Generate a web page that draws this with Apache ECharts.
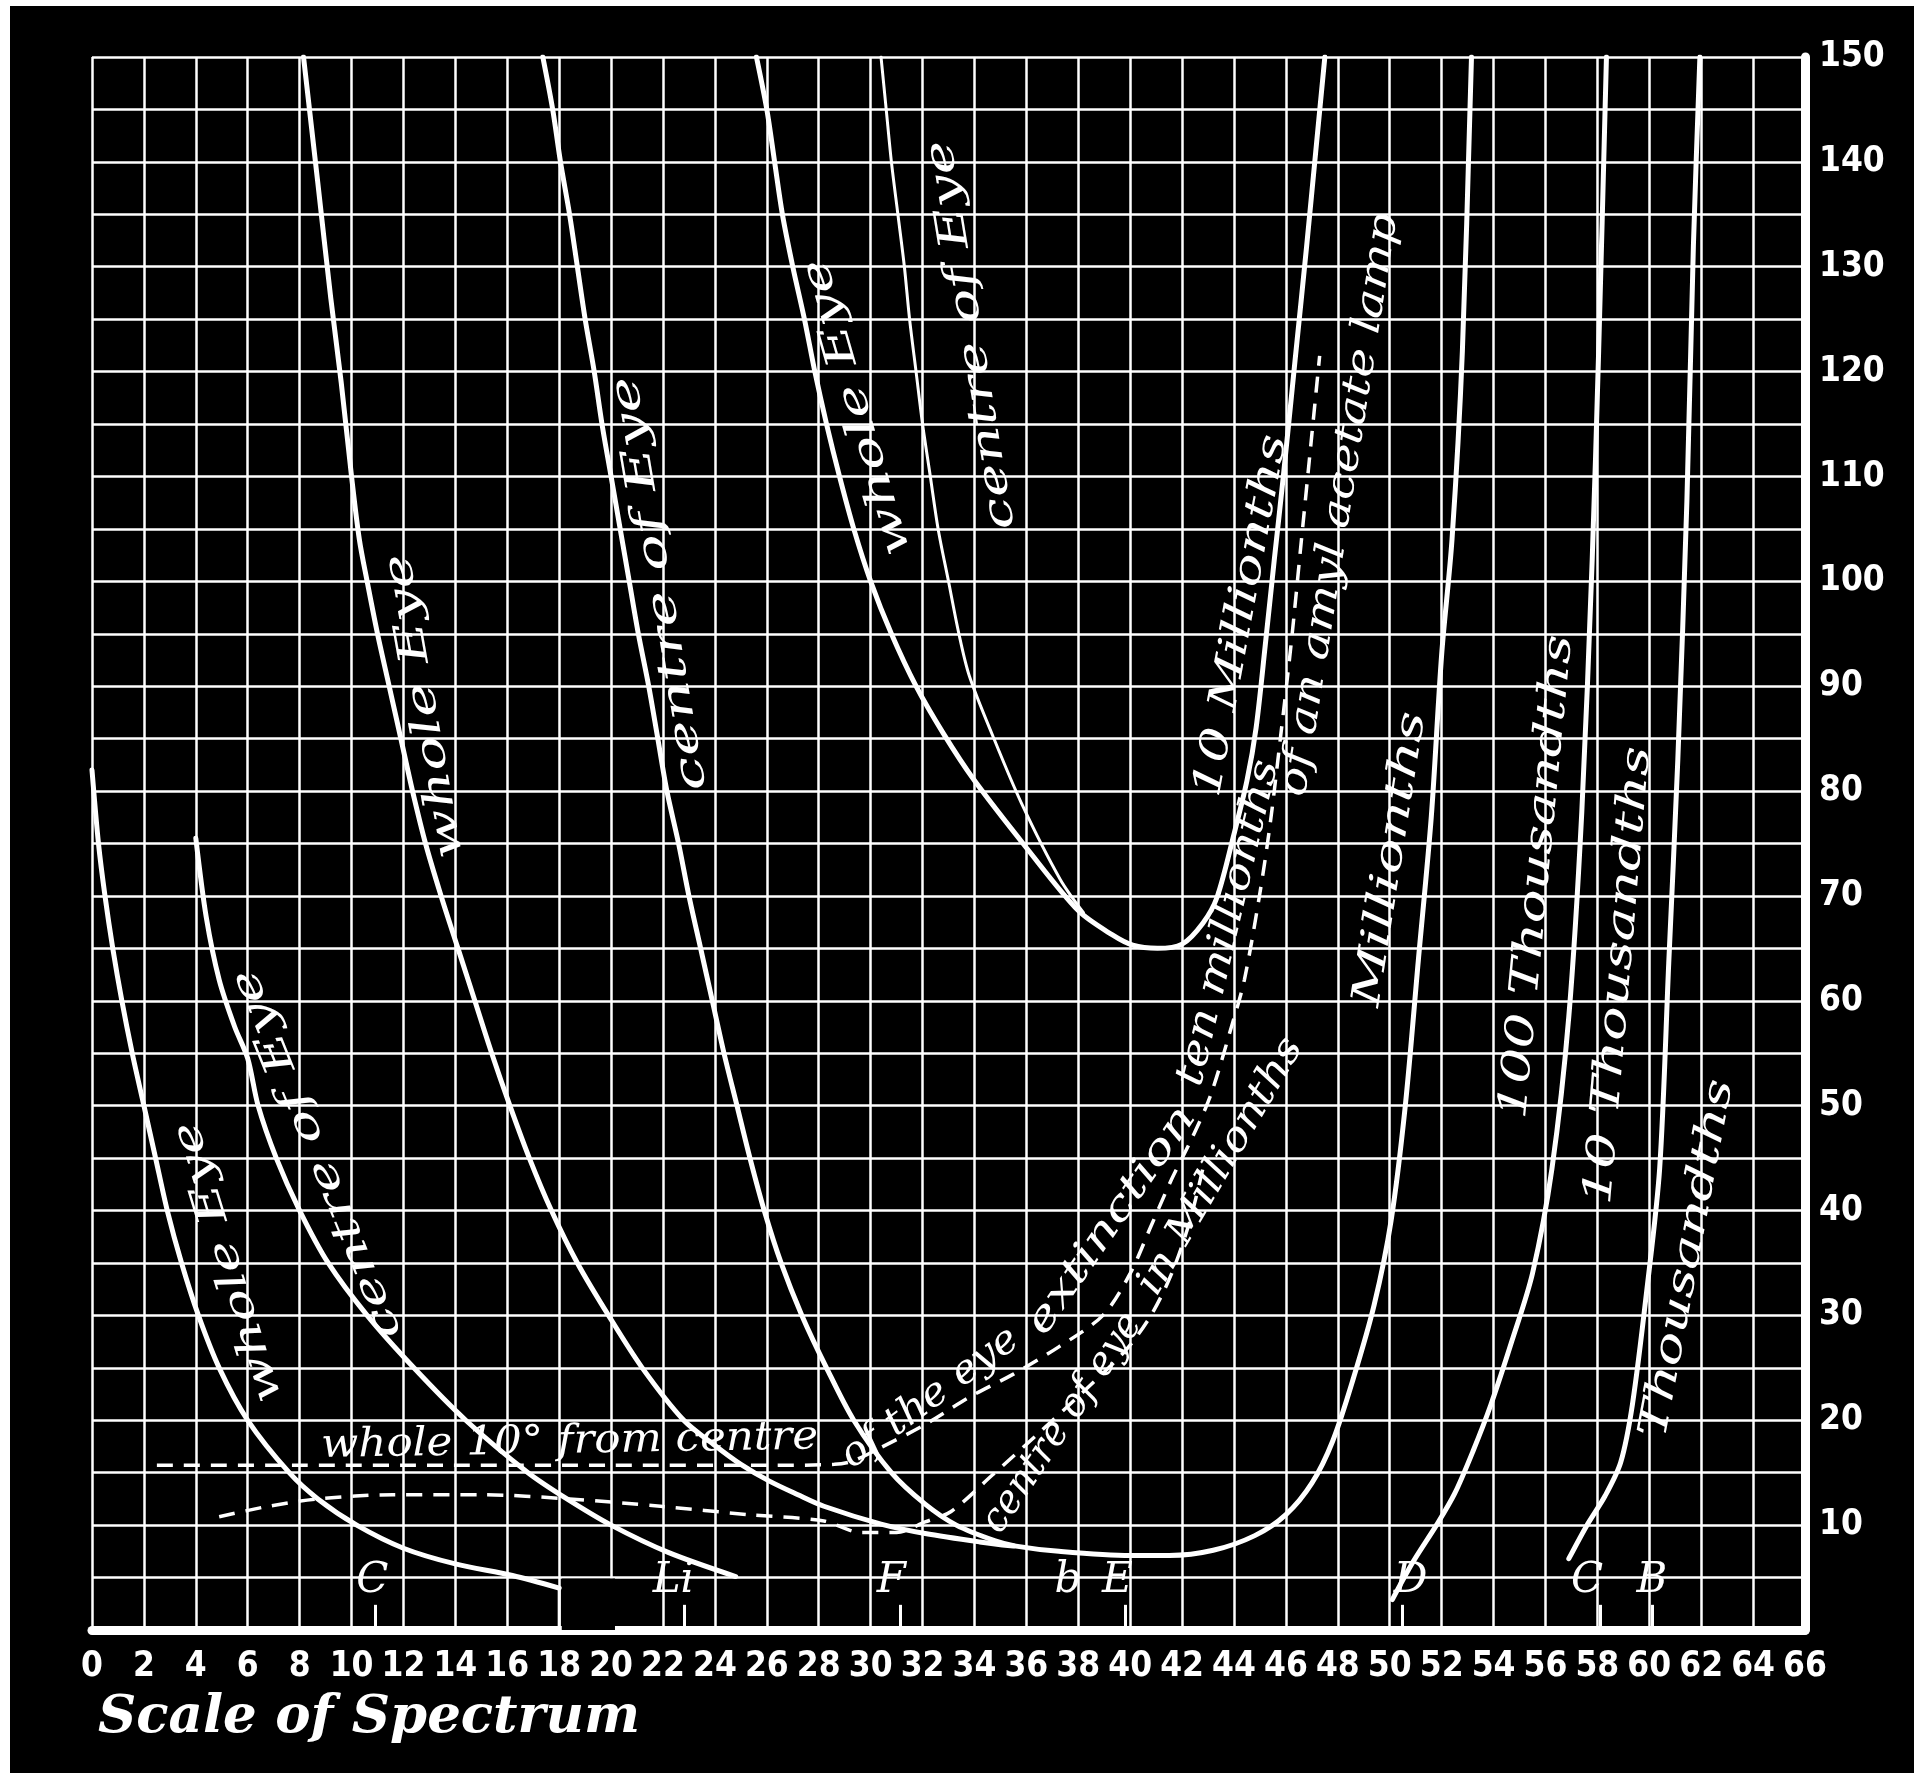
<!DOCTYPE html>
<html><head><meta charset="utf-8">
<script src="https://cdn.jsdelivr.net/npm/echarts/dist/echarts.min.js"></script>
<style>
html,body{margin:0;padding:0;background:#fff;width:1924px;height:1782px;overflow:hidden}
#chart{position:absolute;left:10px;top:6px;width:1904px;height:1767px;}
</style></head><body><div id="chart"></div>
<script>
// ---- data (x = scale of spectrum, y = intensity) ----
const xTicks = [0, 66, 2];
const yTicks = [0, 150, 5];
const wholeEyeA = [[0,82],[0.25,75],[0.5,70],[0.8,65],[1.15,60],[1.55,55],[2.0,50],[2.45,45],[2.9,40],[3.45,35],[4.1,30],[4.9,25],[6.0,20],[7.6,15],[8.7,12.5],[10.2,10],[12.0,7.8],[14.0,6.3],[16.2,5.2],[18.0,4.0]];
const centreEyeB = [[4.0,75.5],[4.4,68],[4.9,62],[5.5,57.5],[6.0,54.5],[6.4,50],[7.1,45],[8.0,40],[9.1,35],[10.6,30],[12.4,25],[14.4,20],[16.8,15],[18.3,12.5],[20.0,10],[22.2,7.4],[24.8,5.1]];
const wholeEyeC = [[8.15,150],[8.7,138],[9.2,127],[9.6,119],[10.0,110],[10.3,104],[10.6,100],[11.0,95],[11.45,90],[11.9,85],[12.35,80],[12.85,75],[13.45,70],[14.1,65],[14.75,60],[15.4,55],[16.1,50],[16.85,45],[17.7,40],[18.7,35],[19.9,30],[21.2,25],[22.8,20],[24.0,17.6],[25.0,15.8],[26.1,14.2],[27.2,12.9],[28.2,11.8],[30.4,10.1],[32.1,9.2],[34.2,8.4],[35.5,8.0]];
const centreEyeD = [[17.37,150],[17.75,145],[18.05,140],[18.4,135],[18.7,130],[19.0,125],[19.35,120],[19.65,115],[20.0,110],[20.35,105],[20.7,100],[21.05,95],[21.45,90],[21.8,85],[22.15,80],[22.6,75],[23.0,70],[23.45,65],[23.9,60],[24.35,55],[24.85,50],[25.35,45],[25.9,40],[26.55,35],[27.35,30],[28.3,25],[29.35,20],[30.8,15],[32.1,12],[33.3,10],[34.8,8.5],[35.6,8.0],[37.25,7.5],[40.0,7.1],[41.5,7.1],[43.2,7.6],[44.8,9.0],[46.0,11],[47.0,14],[47.8,18],[48.6,24],[49.4,31],[50.05,39],[50.6,50],[51.1,63.8],[51.6,77.5],[52.0,93],[52.4,104],[52.8,122],[53.15,150]];
const wholeEyeE = [[25.6,150],[26.0,145],[26.3,140],[26.6,135],[27.0,130],[27.45,125],[27.85,120],[28.3,115],[28.8,110],[29.35,105],[30.0,100],[30.8,95],[31.75,90],[32.8,85.5],[34.0,81],[36.0,74.6],[38.0,68.6],[39.3,66.3],[40.1,65.3],[41.05,65.0],[42.0,65.4],[42.8,67.4],[43.35,69.9],[44.0,75.9],[44.5,81],[44.85,86],[45.2,93.8],[45.55,102],[45.9,110],[46.35,121],[46.8,132],[47.15,141],[47.5,150]];
const centreEyeF = [[30.4,150],[30.6,145],[30.8,140],[31.05,135],[31.3,130],[31.5,125],[31.75,120],[32.0,115],[32.3,110],[32.6,105],[33.0,100],[33.4,95],[33.8,91],[34.7,85.3],[35.8,78.9],[37.3,71.6],[38.2,68.4]];
const hundredThousandths = [[50.1,2.9],[50.9,6.5],[51.8,10],[52.5,13],[53.2,17],[53.9,21.5],[54.7,27.5],[55.5,34],[56.25,44],[56.9,58.5],[57.4,78],[57.8,102],[58.05,122],[58.35,150]];
const tenThousandths = [[56.9,6.8],[57.6,10],[58.3,12.8],[58.9,16],[59.35,21.5],[59.9,32.3],[60.4,44],[60.75,63.6],[61.1,83],[61.45,107.7],[61.7,132],[61.95,150]];
const dashedExtinction = [[2.5,15.7],[8,15.7],[14,15.7],[20,15.7],[26,15.7],[28.6,15.8],[29.3,16.1],[30.4,17.4],[32.1,19.6],[33.8,22.2],[35.5,24.4],[37.25,27],[38.95,30],[40.0,34],[40.8,38.5],[41.6,43],[42.4,47],[43.1,51],[43.9,57.5],[44.4,62],[45.0,70.3],[45.4,77],[45.8,85.3],[46.2,94],[46.6,104],[47.0,114],[47.3,121.5]];
const dashedCentre = [[4.9,10.8],[6.8,11.8],[8.7,12.5],[11.6,12.9],[15,12.9],[18.4,12.5],[21.9,11.8],[25.3,11.0],[28.2,10.4],[29.6,9.3],[31.0,9.3],[32.1,10.3],[33.1,11.3],[34.7,14.8],[36.4,18.6],[38.1,22.5],[39.8,26.6],[40.8,30],[41.6,34],[42.3,39],[42.8,44]];
const fraunhoferTicks = [10.9, 22.8, 31.15, 39.8, 50.5, 58.1, 60.1];
const fraunhoferNames = [['C',10.8],['Li',22.4],['F',30.8],['b',37.6],['E',39.5],['D',50.8],['C',57.6],['B',60.1]];
const blankBox = [18.1, 20.15, 4.9];
const boxEdge = [[18,4.0],[18,0]];
// annotation text: [text, x, y, angle in degrees, length in px along the text]
const annotations = [
  ['whole Eye', 5.27, 35.1, 107, 292],
  ['centre of Eye', 8.7, 45.4, 112, 396],
  ['whole Eye', 12.84, 88.1, 100, 309],
  ['centre of Eye', 21.9, 99.8, 99.6, 420],
  ['whole Eye', 29.5, 116.6, 106, 307],
  ['centre of Eye', 33.9, 123.5, 99.3, 394],
  ['10 Millionths', 44.3, 96.7, 79.4, 368],
  ['of an amyl acetate lamp', 48.1, 107.3, 81, 590],
  ['whole 10° from centre', 18.4, 17.9, 1, 497],
  ['of the eye', 32.3, 22.1, 36.5, 211],
  ['extinction', 39.3, 39.0, 55.4, 268],
  ['ten millionths', 43.8, 67.4, 76.6, 334],
  ['centre of eye', 37.4, 19.7, 56, 256],
  ['in Millionths', 43.5, 44.2, 59.7, 291],
  ['Millionths', 50.05, 73.5, 81, 298],
  ['100 Thousandths', 55.7, 71.8, 84.5, 486],
  ['10 Thousandths', 58.84, 62.4, 85.1, 460],
  ['Thousandths', 61.5, 35.4, 79.3, 364]
];
const xTitle = 'Scale of Spectrum';

// ---- chart ----
const chart = echarts.init(document.getElementById('chart'));
const numFont = '"DejaVu Sans Condensed", "DejaVu Sans", sans-serif';
const scriptFont = '"DejaVu Serif", "Liberation Serif", serif';
const labelFont = 'italic 40px ' + scriptFont;
function curve(data, width) {
  return {type:'line', data, showSymbol:false, smooth:0.3, silent:true, z:3,
    lineStyle:{color:'#fff', width, cap:'round', join:'round'}};
}
function dashed(data) {
  return {type:'line', data, showSymbol:false, smooth:0.3, silent:true, z:3,
    lineStyle:{color:'#fff', width:3.5, type:[16,11]}};
}
const series = [
  curve(wholeEyeA, 5), curve(centreEyeB, 5), curve(wholeEyeC, 5), curve(centreEyeD, 5),
  curve(wholeEyeE, 5), curve(centreEyeF, 3), curve(hundredThousandths, 5), curve(tenThousandths, 5),
  dashed(dashedExtinction), dashed(dashedCentre),
  {type:'line', data:boxEdge, showSymbol:false, silent:true, z:4, lineStyle:{color:'#fff', width:3},
    markArea:{silent:true, itemStyle:{color:'#000', opacity:1},
      data:[[{coord:[blankBox[0], -0.7]}, {coord:[blankBox[1], blankBox[2]]}]]},
    markLine:{silent:true, symbol:['none','none'], label:{show:false},
      lineStyle:{color:'#fff', width:3, type:'solid'},
      data: fraunhoferTicks.map(x => [{coord:[x,0]}, {coord:[x,2.4]}])}}
];
chart.setOption({
  animation:false,
  backgroundColor:'#000',
  grid:{left:82, top:51, width:1713, height:1573, containLabel:false},
  xAxis:{type:'value', min:xTicks[0], max:xTicks[1], interval:xTicks[2],
    axisLine:{show:true, onZero:false, lineStyle:{color:'#fff', width:9}},
    axisTick:{show:false},
    axisLabel:{color:'#fff', fontSize:35, fontWeight:'bold', fontFamily:numFont, margin:19, showMinLabel:true, showMaxLabel:true},
    splitLine:{show:true, lineStyle:{color:'#fff', width:2.5}}},
  yAxis:{type:'value', position:'right', min:yTicks[0], max:yTicks[1], interval:yTicks[2],
    axisLine:{show:true, onZero:false, lineStyle:{color:'#fff', width:9}},
    axisTick:{show:false},
    axisLabel:{color:'#fff', fontSize:35, fontWeight:'bold', fontFamily:numFont, margin:14,
      formatter: v => (v % 10 === 0 && v > 0) ? String(v) : ''},
    splitLine:{show:true, lineStyle:{color:'#fff', width:2.5}}},
  series
});

const ctx = document.createElement('canvas').getContext('2d');
ctx.font = labelFont;
const graphics = [];
annotations.forEach(([t, x, y, a, len]) => {
  const p = chart.convertToPixel({gridIndex:0}, [x, y]);
  const w = ctx.measureText(t).width || len;
  graphics.push({type:'text', x:p[0], y:p[1], rotation:a*Math.PI/180, scaleX:len/w, z:10, silent:true,
    style:{text:t, fill:'#fff', font:labelFont,
      align:'center', verticalAlign:'middle', textAlign:'center', textVerticalAlign:'middle'}});
});
fraunhoferNames.forEach(([t, x]) => {
  const p = chart.convertToPixel({gridIndex:0}, [x, 4.7]);
  graphics.push({type:'text', x:p[0], y:p[1], z:10, silent:true,
    style:{text:t, fill:'#fff', font:'italic 42px ' + scriptFont,
      align:'center', verticalAlign:'middle', textAlign:'center', textVerticalAlign:'middle'}});
});
graphics.push({type:'text', left:88, top:1686, z:10, silent:true,
  style:{text:xTitle, fill:'#fff', font:'italic bold 53px ' + scriptFont}});
chart.setOption({graphic:graphics});
</script></body></html>
